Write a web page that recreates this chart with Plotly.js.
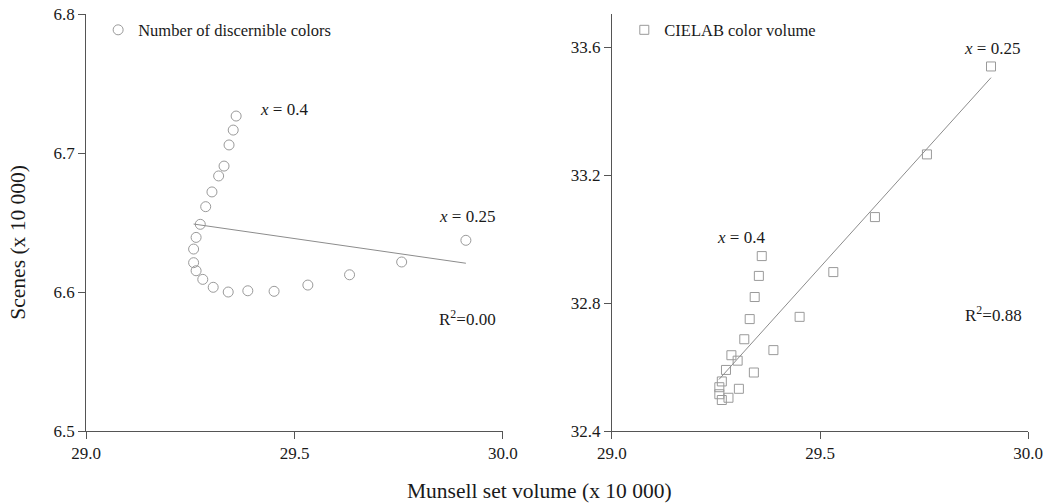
<!DOCTYPE html>
<html>
<head>
<meta charset="utf-8">
<script src="https://cdn.plot.ly/plotly-3.0.1.min.js"></script>
<style>html,body{margin:0;padding:0;background:#fff;}#chart{width:1044px;height:504px;}</style>
</head>
<body>
<div id="chart"></div>
<script>
// Munsell set volume (x 10 000), shared x values for both panels
const munsellVolume = [29.360, 29.353, 29.343, 29.331, 29.318, 29.302, 29.287, 29.274, 29.264, 29.258, 29.258,
  29.264, 29.280, 29.305, 29.341, 29.388, 29.451, 29.532, 29.632, 29.757, 29.911];
// Left panel: Number of discernible colors (scenes x 10 000)
const discernibleColors = [6.7266, 6.7165, 6.7058, 6.6906, 6.6835, 6.6720, 6.6614, 6.6487, 6.6393, 6.6309, 6.6211,
  6.6153, 6.6091, 6.6034, 6.6000, 6.6009, 6.6005, 6.6050, 6.6124, 6.6216, 6.6372];
// Right panel: CIELAB color volume
const cielabVolume = [32.947, 32.885, 32.819, 32.750, 32.687, 32.620, 32.637, 32.591, 32.555, 32.537, 32.515,
  32.497, 32.504, 32.532, 32.583, 32.653, 32.757, 32.897, 33.069, 33.265, 33.540];
// Linear fit lines (endpoints)
const fitLeftX = [29.258, 29.911];
const fitLeftY = [6.6489, 6.6207];
const fitRightX = [29.257, 29.911];
const fitRightY = [32.561, 33.505];
const r2Left = "0.00";
const r2Right = "0.88";
const xTicks = [29.0, 29.5, 30.0];
const yTicksLeft = [6.5, 6.6, 6.7, 6.8];
const yTicksRight = [32.4, 32.8, 33.2, 33.6];

const serif = "Liberation Serif, Times New Roman, serif";
const markerGray = "#9a9a9a";
const axisCol = "#555555";
const textCol = "#1a1a1a";

const traces = [
  {x: munsellVolume, y: discernibleColors, type: "scatter", mode: "markers", name: "Number of discernible colors",
   xaxis: "x", yaxis: "y", legend: "legend",
   marker: {symbol: "circle-open", size: 10, color: markerGray, line: {width: 1, color: markerGray}}},
  {x: fitLeftX, y: fitLeftY, type: "scatter", mode: "lines", showlegend: false, xaxis: "x", yaxis: "y",
   line: {color: "#8c8c8c", width: 1}},
  {x: munsellVolume, y: cielabVolume, type: "scatter", mode: "markers", name: "CIELAB color volume",
   xaxis: "x2", yaxis: "y2", legend: "legend2",
   marker: {symbol: "square-open", size: 9, color: markerGray, line: {width: 1, color: markerGray}}},
  {x: fitRightX, y: fitRightY, type: "scatter", mode: "lines", showlegend: false, xaxis: "x2", yaxis: "y2",
   line: {color: "#8c8c8c", width: 1}}
];

function xAx(domain, anchor) {
  return {domain: domain, anchor: anchor, range: [29.0, 30.0], tickvals: xTicks, tickformat: ".1f",
    showgrid: false, zeroline: false, showline: true, linecolor: axisCol, linewidth: 1,
    ticks: "outside", ticklen: 7, tickcolor: axisCol, tickfont: {family: serif, size: 17, color: textCol}};
}
function yAx(domain, anchor, range, ticks) {
  return {domain: domain, anchor: anchor, range: range, tickvals: ticks, tickformat: ".1f",
    showgrid: false, zeroline: false, showline: true, linecolor: axisCol, linewidth: 1,
    ticks: "outside", ticklen: 7, tickcolor: axisCol, tickfont: {family: serif, size: 17, color: textCol}};
}

const annFont = {family: serif, size: 17, color: textCol};
function ann(x, y, text, xref, yref) {
  return {x: x, y: y, xref: xref, yref: yref, text: text, showarrow: false, xanchor: "left", yanchor: "middle", font: annFont};
}

const layout = {
  width: 1044, height: 504,
  margin: {l: 0, r: 0, t: 0, b: 0},
  paper_bgcolor: "#ffffff", plot_bgcolor: "#ffffff",
  font: {family: serif, color: textCol},
  xaxis: xAx([0.0824, 0.4818], "y"),
  yaxis: yAx([0.1448, 0.9722], "x", [6.5, 6.8], yTicksLeft),
  xaxis2: xAx([0.5862, 0.9847], "y2"),
  yaxis2: yAx([0.1448, 0.9722], "x2", [32.4, 33.704], yTicksRight),
  legend: {x: 0.094, y: 0.975, xanchor: "left", yanchor: "top", bgcolor: "rgba(0,0,0,0)",
    font: {family: serif, size: 16.5, color: textCol}},
  legend2: {x: 0.598, y: 0.975, xanchor: "left", yanchor: "top", bgcolor: "rgba(0,0,0,0)",
    font: {family: serif, size: 16.5, color: textCol}},
  annotations: [
    ann(29.412, 6.731, "<i>x</i> = 0.4", "x", "y"),
    ann(29.842, 6.654, "<i>x</i> = 0.25", "x", "y"),
    ann(29.842, 6.581, "R<sup>2</sup>=" + r2Left, "x", "y"),
    ann(29.841, 33.596, "<i>x</i> = 0.25", "x2", "y2"),
    ann(29.248, 33.006, "<i>x</i> = 0.4", "x2", "y2"),
    ann(29.844, 32.765, "R<sup>2</sup>=" + r2Right, "x2", "y2"),
    {x: 0.5168, y: 0.026, xref: "paper", yref: "paper", text: "Munsell set volume (x 10 000)", showarrow: false,
     xanchor: "center", yanchor: "middle", font: {family: serif, size: 21.5, color: textCol}},
    {x: 0.017, y: 0.52, xref: "paper", yref: "paper", text: "Scenes (x 10 000)", showarrow: false, textangle: -90,
     xanchor: "center", yanchor: "middle", font: {family: serif, size: 21.5, color: textCol}}
  ]
};

Plotly.newPlot("chart", traces, layout, {staticPlot: true, displayModeBar: false});
</script>
</body>
</html>
